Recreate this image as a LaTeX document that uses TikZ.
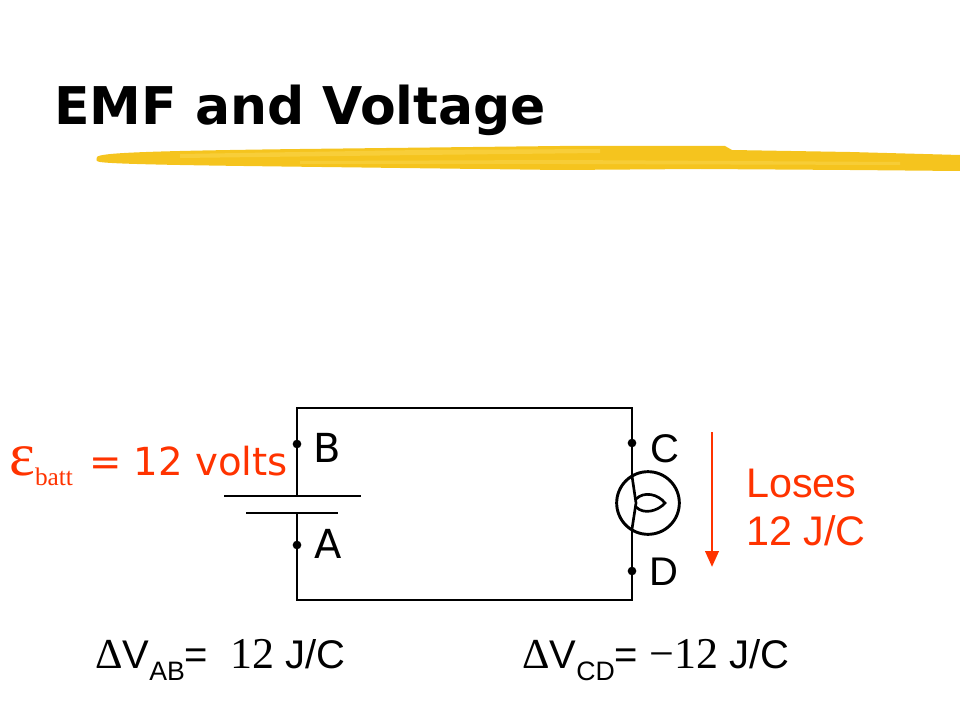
\documentclass[tikz,border=0pt]{standalone}
\usepackage{fontspec}
\setmainfont{DejaVu Sans}
\newfontfamily\arialfont{Liberation Sans}
\newfontfamily\timesfont{Liberation Serif}
\usepackage{xcolor}
\usetikzlibrary{arrows.meta,positioning}

\definecolor{emfred}{RGB}{255,51,0}
\definecolor{brushgold}{RGB}{245,196,30}
\definecolor{brushlight}{RGB}{252,220,90}

\begin{document}
\begin{tikzpicture}[
    x=0.75pt, y=-0.75pt,
    wire/.style={line width=1pt},
    plate/.style={line width=1pt},
    dot/.style={circle, fill, inner sep=0pt, minimum size=6.5pt},
    filament/.style={line width=2pt, line cap=round},
    pin/.style={inner sep=0pt, anchor=base west},
    verdana/.style={font=\fontsize{30}{30}\selectfont},
    arial/.style={font=\arialfont\fontsize{30}{30}\selectfont},
    loss/.style={->, >={Triangle[length=12pt,width=10pt]}, line width=2.2pt, emfred}
]
\useasboundingbox (0,0) rectangle (960,720);

% Title
\node[pin, font=\bfseries\fontsize{39}{39}\selectfont] (title) at (54,125) {EMF and Voltage};

% Brush stroke under the title
\fill[brushgold] (97,157) .. controls (100,153) and (140,151) .. (300,149)
  -- (560,146) -- (725,146) -- (732,150) -- (850,152) -- (960,155)
  -- (960,171) -- (850,170) -- (700,169) -- (560,170) -- (400,168)
  .. controls (250,166) and (120,165) .. (100,162) .. controls (96,161) .. (97,157) -- cycle;
\fill[brushlight, opacity=0.45] (180,154) -- (420,150) -- (600,149) -- (600,153) -- (420,155) -- (180,158) -- cycle;
\fill[brushlight, opacity=0.4] (300,161) -- (560,160) -- (900,162) -- (900,165) -- (560,164) -- (300,164) -- cycle;

% Circuit corners
\coordinate (tl) at (297,408);
\coordinate (tr) at (632,408);
\coordinate (br) at (632,600);
\coordinate (bl) at (297,600);
\coordinate (plus) at (297,496);
\coordinate (minus) at (297,513);
\coordinate (bt) at (632,476);
\coordinate (bb) at (632,529);

% Battery
\draw[plate] (224,496) -- (361,496);
\draw[plate] (246,513) -- (338,513);

% Bulb
\node[draw, circle, line width=2.2pt, inner sep=0pt, minimum size=47pt] (bulb) at (648,503) {};
\draw[filament] (bt) .. controls (634,490) .. (636,503) .. controls (634,516) .. (bb);
\draw[filament] (636,499) .. controls (644,491) and (658,494) .. (665,503)
  .. controls (658,511) and (644,515) .. (636,507);

% Wires
\draw[wire] (plus) -- (tl) -- (tr) -- (bt);
\draw[wire] (bb) -- (br) -- (bl) -- (minus);

% Points
\node[dot] (B) at (297,444) {};
\node[dot] (A) at (297,545) {};
\node[dot] (C) at (632,443) {};
\node[dot] (D) at (632,571) {};

\node[pin, verdana] (Blabel) at (313,462) {B};
\node[pin, verdana] (Alabel) at (314,558) {A};
\node[pin, arial] (Clabel) at (650,462) {C};
\node[pin, arial] (Dlabel) at (649,585) {D};

% EMF of the battery
\node[pin, emfred, font=\fontsize{29}{29}\selectfont] (emf) at (9,475)
  {{\timesfont\fontsize{46}{46}\selectfont ε}\raisebox{-7.5pt}{\timesfont\fontsize{19}{19}\selectfont batt}\hspace{12pt}= 12 volts};

% Loss across the bulb
\coordinate (ltop) at (712,432);
\coordinate (lbot) at (712,567);
\draw[loss] (ltop) -- (lbot);
\node[pin, emfred, font=\arialfont\fontsize{31}{31}\selectfont] (loses) at (746,497) {Loses};
\node[pin, emfred, font=\arialfont\fontsize{31}{31}\selectfont] (lossval) at (746,545) {12 J/C};

% Potential differences
\node[pin, font=\arialfont\fontsize{30}{30}\selectfont] (vab) at (95,668)
  {{\timesfont\fontsize{32}{32}\selectfont Δ}V\raisebox{-9pt}{\fontsize{20}{20}\selectfont AB}=\ \ {\timesfont\fontsize{33}{33}\selectfont 12} J/C};
\node[pin, font=\arialfont\fontsize{30}{30}\selectfont] (vcd) at (522,668)
  {{\timesfont\fontsize{32}{32}\selectfont Δ}V\raisebox{-9pt}{\fontsize{20}{20}\selectfont CD}= {\timesfont\fontsize{33}{33}\selectfont −12} J/C};

\end{tikzpicture}
\end{document}
